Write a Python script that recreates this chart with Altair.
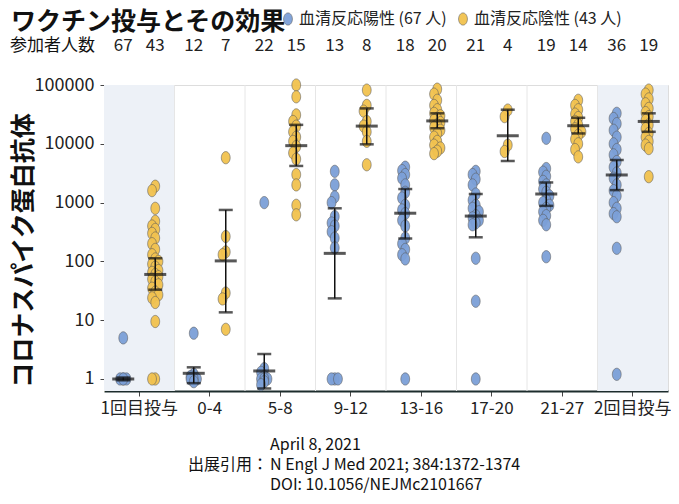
import math
import altair as alt
import pandas as pd

FONT = "Noto Sans CJK JP"
BLUE = "#7ca0d8"
ORANGE = "#f2c24f"
ELLIPSE = "M0,-1A0.72,1,0,1,1,0,1A0.72,1,0,1,1,0,-1Z"

groups = ["1回目投与", "0-4", "5-8", "9-12", "13-16", "17-20", "21-27", "2回目投与"]
series = ["血清反応陽性 (67 人)", "血清反応陰性 (43 人)"]
shaded = ["1回目投与", "2回目投与"]
y_ticks = [1, 10, 100, 1000, 10000, 100000]

n_pos = [67, 12, 22, 13, 18, 21, 19, 36]
n_neg = [43, 7, 15, 8, 20, 4, 14, 19]

pos_values = [
    [5, 1, 1, 1, 1],
    [6, 1.2, 1.1, 1, 1, 1, 0.9],
    [1000, 1.5, 1.3, 1.1, 1, 1, 1, 0.9, 0.8],
    [3400, 2000, 1250, 1000, 580, 450, 400, 320, 250, 170, 1, 1, 1],
    [4000, 3500, 3000, 2600, 2000, 1500, 1200, 900, 750, 650, 500, 400, 250, 200, 160, 130, 110, 1],
    [3400, 3000, 2500, 2000, 1400, 1100, 900, 800, 700, 600, 550, 500, 450, 420, 113, 21, 1],
    [12400, 3800, 3300, 2800, 2300, 2000, 1700, 1500, 1300, 1100, 1000, 900, 800, 700, 600, 500, 420, 120],
    [33000, 27000, 22000, 17000, 13000, 10000, 8000, 6500, 5000, 4000, 3200, 2600, 2000, 1600, 1300,
     1000, 800, 650, 575, 167, 1.2],
]
neg_values = [
    [1900, 1600, 800, 480, 400, 350, 300, 250, 200, 160, 130, 110, 100, 90, 80, 70, 65, 60, 55, 50,
     45, 40, 35, 30, 27, 24, 20, 9.5, 1, 1],
    [5800, 265, 145, 130, 29, 23, 7],
    [100000, 63000, 31000, 24000, 20000, 16000, 13000, 11000, 9000, 7000, 5500, 3000, 2000, 900, 620],
    [82000, 45000, 36000, 24000, 20000, 16000, 11000, 4400],
    [85000, 70000, 55000, 45000, 38000, 33000, 30000, 27000, 25000, 23000, 21000, 19000, 17000, 15000,
     13000, 11000, 9500, 8500, 7500, 6800],
    [37500, 29000, 9500, 7400],
    [55000, 45000, 38000, 32000, 28000, 24000, 21000, 18000, 16000, 14000, 12000, 10000, 8000, 6000],
    [82000, 70000, 58000, 48000, 40000, 34000, 29000, 25000, 21000, 18000, 15000, 13000, 11000, 9500,
     8300, 2760],
]

pos_mean = [1.0, 1.25, 1.37, 137, 660, 590, 1400, 2950]
pos_lo = [0.95, 0.85, 0.69, 23.5, 245, 257, 880, 1630]
pos_hi = [1.06, 1.58, 2.66, 800, 1700, 1400, 2200, 5300]
neg_mean = [60, 102, 9300, 20000, 24500, 13700, 20300, 24000]
neg_lo = [33, 13.6, 4200, 9800, 18400, 5100, 15000, 16000]
neg_hi = [113, 750, 21000, 40000, 33000, 38000, 27700, 33000]

# ---- layout constants ----
W, H = 564, 306
Y_MIN, Y_MAX = 0.625, 100000
BAND = W / len(groups)              # one group's width in px
HALF = BAND / 2
SHIFT = {series[0]: -16, series[1]: 16}   # sub-column offset from group centre (px)
PX_PER_DECADE = H / (math.log10(Y_MAX) - math.log10(Y_MIN))


def swarm(vals, step=3.2, gap=7):
    """Small beeswarm: spread overlapping dots sideways."""
    placed, offs = [], []
    for v in vals:
        ypx = math.log10(v) * PX_PER_DECADE
        best, best_d = 0, -1
        for c in (0, -step, step):
            near = [abs(ypx - py) for py, pc in placed if pc == c]
            d = min(near) if near else 1e9
            if d >= gap:
                best = c
                break
            if d > best_d:
                best, best_d = c, d
        placed.append((ypx, best))
        offs.append(best)
    return offs


# ---- tables built from the arrays ----
rows = []
for s, table in ((series[0], pos_values), (series[1], neg_values)):
    for g, vals in zip(groups, table):
        for v, o in zip(vals, swarm(vals)):
            rows.append({"group": g, "series": s, "value": v, "off": SHIFT[s] + o})
pts = pd.DataFrame(rows)

err = pd.DataFrame(
    [{"group": g, "series": series[0], "mean": m, "lo": lo, "hi": hi, "off": SHIFT[series[0]]}
     for g, m, lo, hi in zip(groups, pos_mean, pos_lo, pos_hi)]
    + [{"group": g, "series": series[1], "mean": m, "lo": lo, "hi": hi, "off": SHIFT[series[1]]}
       for g, m, lo, hi in zip(groups, neg_mean, neg_lo, neg_hi)]
)

counts = pd.DataFrame(
    [{"group": g, "n": n, "off": SHIFT[series[0]]} for g, n in zip(groups, n_pos)]
    + [{"group": g, "n": n, "off": SHIFT[series[1]]} for g, n in zip(groups, n_neg)]
)

xscale = alt.Scale(domain=groups, paddingInner=0, paddingOuter=0)
xoff = alt.XOffset("off:Q", scale=alt.Scale(domain=[-HALF, HALF], range=[0, 2 * HALF]))
yscale = alt.Scale(type="log", domain=[Y_MIN, Y_MAX], nice=False)

X_AXIS = alt.Axis(
    title=None, labelFont=FONT, labelFontSize=17, labelColor="#222", labelPadding=4, labelAngle=0,
    tickSize=5, tickColor="#444", domainColor="#1c2c2c", domainWidth=2, grid=False,
)
Y_AXIS = alt.Axis(
    values=y_ticks, format="d",
    labelFont=FONT, labelFontSize=18, labelColor="#222", labelPadding=6,
    tickSize=4, tickColor="#444", domainColor="#c4c49a", domainWidth=1, grid=False,
    title="コロナスパイク蛋白抗体", titleFont=FONT, titleFontSize=25, titleFontWeight="bold",
    titleColor="#111", titleX=-81, titleY=165, titleAlign="center", titleBaseline="middle",
)


def X(**kw):
    return alt.X("group:N", sort=groups, scale=xscale, axis=X_AXIS, **kw)


def Y(field):
    return alt.Y(field, scale=yscale, axis=Y_AXIS)


# shaded first / last groups: a band-wide rule centred on each group
shade = alt.Chart(pd.DataFrame({"group": shaded})).mark_rule(
    color="#edf1f7", strokeWidth=BAND, strokeCap="butt"
).encode(x=X(), y=alt.value(0), y2=alt.value(H))

seps = alt.Chart(pd.DataFrame({"group": groups[1:]})).mark_rule(
    color="#e6e6e6", strokeWidth=1
).encode(x=X(bandPosition=0), y=alt.value(0), y2=alt.value(H))

points = alt.Chart(pts).mark_point(
    shape=ELLIPSE, filled=True, size=150, stroke="#5a5a5a", strokeWidth=0.6, opacity=0.95
).encode(
    x=X(),
    xOffset=xoff,
    y=Y("value:Q"),
    color=alt.Color("series:N", sort=series, scale=alt.Scale(domain=series, range=[BLUE, ORANGE]),
                    legend=alt.Legend(
                        orient="none", legendX=176, legendY=-74, direction="horizontal", title=None,
                        labelFont=FONT, labelFontSize=16, labelColor="#222", labelOffset=3,
                        symbolType=ELLIPSE, symbolSize=150, symbolStrokeColor="#5a5a5a",
                        symbolStrokeWidth=0.6, columnPadding=8,
                    )),
)

whisk = alt.Chart(err).mark_rule(color="#111", strokeWidth=1.5).encode(
    x=X(), xOffset=xoff, y=Y("lo:Q"), y2="hi:Q",
)

mean_tick = alt.Chart(err).mark_tick(color="#111", size=22, thickness=3).encode(
    x=X(), xOffset=xoff, y=Y("mean:Q")
)

caps = alt.Chart(err).transform_fold(["lo", "hi"], as_=["k", "v"]).mark_tick(
    color="#111", size=14, thickness=2.5
).encode(x=X(), xOffset=xoff, y=Y("v:Q"))

count_text = alt.Chart(counts).mark_text(
    font=FONT, fontSize=17, color="#222", baseline="middle"
).encode(x=X(), xOffset=xoff, y=alt.value(-39), text="n:N")

one = alt.Data(values=[{}])


def note(txt, x, y, size=17, align="left", weight="normal"):
    return alt.Chart(one).mark_text(
        text=txt, font=FONT, fontSize=size, align=align, baseline="middle",
        fontWeight=weight, color="#111"
    ).encode(x=alt.value(x), y=alt.value(y))


notes = [
    note("ワクチン投与とその効果", -93, -63, size=25, weight="bold"),
    note("参加者人数", -94, -39),
    note("April 8, 2021", 166, 360, size=16),
    note("出展引用：", 164, 380, size=16, align="right"),
    note("N Engl J Med 2021; 384:1372-1374", 166, 380, size=16),
    note("DOI: 10.1056/NEJMc2101667", 166, 400, size=16),
]

chart = alt.layer(shade, seps, points, whisk, mean_tick, caps, count_text, *notes).properties(
    width=W, height=H,
    autosize=alt.AutoSizeParams(type="none"),
    padding={"left": 96, "top": 77, "right": 3, "bottom": 105},
).configure_view(stroke=None).configure(background="white")

chart.save("out.html", embed_options={"renderer": "svg", "actions": False})
